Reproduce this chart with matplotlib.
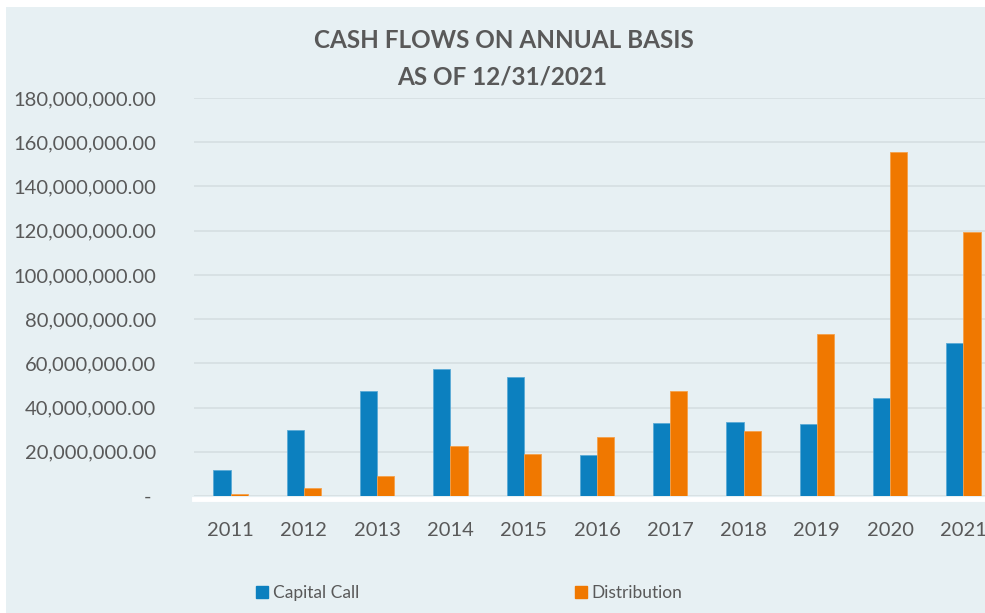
import numpy as np
import matplotlib
matplotlib.use("Agg")
from matplotlib import pyplot as plt
from matplotlib.ticker import FuncFormatter
from matplotlib.lines import Line2D

# data (USD)
years = ["2011", "2012", "2013", "2014", "2015", "2016", "2017", "2018", "2019", "2020", "2021"]
capital_call = [11.8, 29.9, 47.5, 57.4, 53.8, 18.4, 32.9, 33.6, 32.4, 44.2, 69.2]
distribution = [1.0, 3.8, 9.0, 22.6, 19.0, 26.7, 47.5, 29.4, 73.3, 155.4, 119.4]
capital_call = [v * 1e6 for v in capital_call]
distribution = [v * 1e6 for v in distribution]

bg = "#e7f0f3"
grey = "#595959"
blue = "#0c80bf"
orange = "#f07800"

plt.rcParams["font.family"] = ["Lato", "DejaVu Sans"]

fig = plt.figure(figsize=(9.85, 6.13), dpi=100)
fig.patch.set_facecolor(bg)
# white strips on top and left
fig.patches.append(plt.Rectangle((0, 1 - 7 / 613), 1, 7 / 613, transform=fig.transFigure,
                                 facecolor="white", edgecolor="none", zorder=0))
fig.patches.append(plt.Rectangle((0, 0), 6 / 985, 1, transform=fig.transFigure,
                                 facecolor="white", edgecolor="none", zorder=0))

# axes: x 194..1000 px (clipped on the right), y 98..496 px
ax = fig.add_axes([194 / 985, 1 - 496 / 613, (1000 - 194) / 985, (496 - 98) / 613])
ax.set_facecolor("none")

x = np.arange(len(years))
w = 0.235
ax.bar(x - w / 2, capital_call, w, color=blue, edgecolor="#5aaad6", linewidth=0.6,
       label="Capital Call", zorder=3)
ax.bar(x + w / 2, distribution, w, color=orange, edgecolor="#f5a04a", linewidth=0.6,
       label="Distribution", zorder=3)

ax.set_xlim(-0.5, len(years) - 0.5)
ax.set_ylim(0, 180e6)
ax.set_yticks(np.arange(0, 180e6 + 1, 20e6))
ax.yaxis.set_major_formatter(FuncFormatter(lambda v, p: "- " if v == 0 else f"{v:,.2f}"))
ax.set_xticks(x)
ax.set_xticklabels(years)

ax.grid(axis="y", color="#d6dee2", linewidth=1.2, zorder=1)
for s in ["top", "right", "left"]:
    ax.spines[s].set_visible(False)
ax.spines["bottom"].set_color("white")
ax.spines["bottom"].set_linewidth(3.5)
ax.spines["bottom"].set_position(("outward", 2))
ax.spines["bottom"].set_zorder(2)
ax.tick_params(axis="both", length=0, labelsize=14.5, colors=grey)
ax.tick_params(axis="y", pad=27)
ax.tick_params(axis="x", pad=17)

fig.text(0.512, 1 - 41 / 613, "CASH FLOWS ON ANNUAL BASIS", ha="center", va="center",
         fontsize=17.5, fontweight="bold", color=grey)
fig.text(0.51, 1 - 77 / 613, "AS OF 12/31/2021", ha="center", va="center",
         fontsize=17.5, fontweight="bold", color=grey)

handles = [Line2D([], [], marker="s", linestyle="none", markersize=8, color=blue),
           Line2D([], [], marker="s", linestyle="none", markersize=8, color=orange)]
leg = fig.legend(handles, ["Capital Call", "Distribution"], loc="center",
                 bbox_to_anchor=(468 / 985, 1 - 593 / 613), ncol=2, frameon=False,
                 fontsize=12.5, labelcolor=grey, columnspacing=12.3, handletextpad=0.1,
                 handlelength=1.0)

fig.savefig("out.png", dpi=100, facecolor=fig.get_facecolor())
